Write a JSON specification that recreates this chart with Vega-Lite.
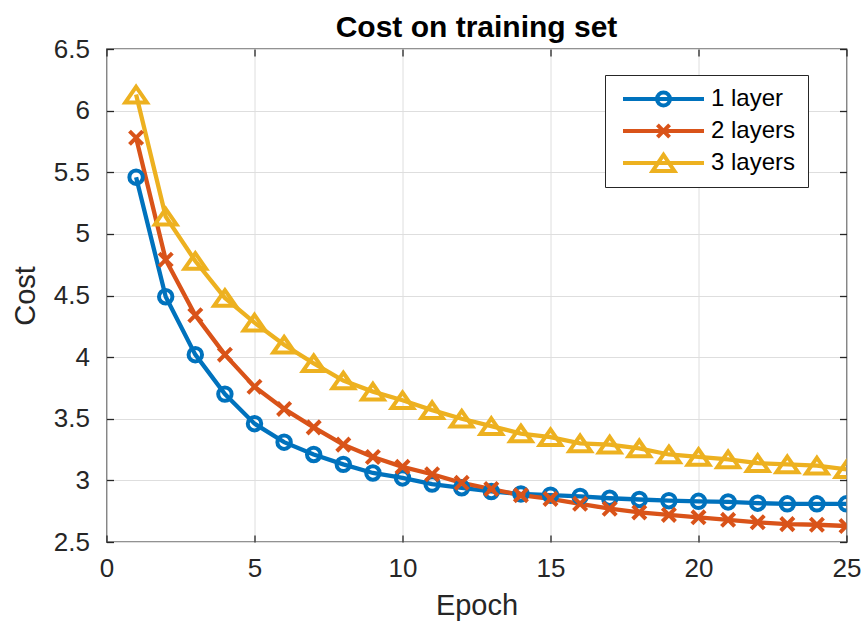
{
  "$schema": "https://vega.github.io/schema/vega-lite/v6.json",
  "autosize": "none",
  "width": 740,
  "height": 493,
  "padding": {"left": 106.5, "top": 49, "right": 15.5, "bottom": 86},
  "background": "white",
  "title": {"text": "Cost on training set", "fontSize": 30, "fontWeight": "bold", "color": "#000000", "font": "Liberation Sans", "offset": -7},
  "data": {"values": [
    {"epoch":1,"series":"1 layer","cost":5.46},{"epoch":2,"series":"1 layer","cost":4.49},{"epoch":3,"series":"1 layer","cost":4.02},{"epoch":4,"series":"1 layer","cost":3.70},{"epoch":5,"series":"1 layer","cost":3.46},{"epoch":6,"series":"1 layer","cost":3.31},{"epoch":7,"series":"1 layer","cost":3.21},{"epoch":8,"series":"1 layer","cost":3.13},{"epoch":9,"series":"1 layer","cost":3.06},{"epoch":10,"series":"1 layer","cost":3.02},{"epoch":11,"series":"1 layer","cost":2.97},{"epoch":12,"series":"1 layer","cost":2.94},{"epoch":13,"series":"1 layer","cost":2.91},{"epoch":14,"series":"1 layer","cost":2.89},{"epoch":15,"series":"1 layer","cost":2.88},{"epoch":16,"series":"1 layer","cost":2.87},{"epoch":17,"series":"1 layer","cost":2.855},{"epoch":18,"series":"1 layer","cost":2.845},{"epoch":19,"series":"1 layer","cost":2.835},{"epoch":20,"series":"1 layer","cost":2.83},{"epoch":21,"series":"1 layer","cost":2.825},{"epoch":22,"series":"1 layer","cost":2.815},{"epoch":23,"series":"1 layer","cost":2.81},{"epoch":24,"series":"1 layer","cost":2.81},{"epoch":25,"series":"1 layer","cost":2.81},
    {"epoch":1,"series":"2 layers","cost":5.78},{"epoch":2,"series":"2 layers","cost":4.79},{"epoch":3,"series":"2 layers","cost":4.34},{"epoch":4,"series":"2 layers","cost":4.02},{"epoch":5,"series":"2 layers","cost":3.76},{"epoch":6,"series":"2 layers","cost":3.58},{"epoch":7,"series":"2 layers","cost":3.43},{"epoch":8,"series":"2 layers","cost":3.29},{"epoch":9,"series":"2 layers","cost":3.19},{"epoch":10,"series":"2 layers","cost":3.11},{"epoch":11,"series":"2 layers","cost":3.05},{"epoch":12,"series":"2 layers","cost":2.98},{"epoch":13,"series":"2 layers","cost":2.93},{"epoch":14,"series":"2 layers","cost":2.88},{"epoch":15,"series":"2 layers","cost":2.85},{"epoch":16,"series":"2 layers","cost":2.81},{"epoch":17,"series":"2 layers","cost":2.77},{"epoch":18,"series":"2 layers","cost":2.74},{"epoch":19,"series":"2 layers","cost":2.72},{"epoch":20,"series":"2 layers","cost":2.70},{"epoch":21,"series":"2 layers","cost":2.68},{"epoch":22,"series":"2 layers","cost":2.66},{"epoch":23,"series":"2 layers","cost":2.645},{"epoch":24,"series":"2 layers","cost":2.64},{"epoch":25,"series":"2 layers","cost":2.63},
    {"epoch":1,"series":"3 layers","cost":6.13},{"epoch":2,"series":"3 layers","cost":5.14},{"epoch":3,"series":"3 layers","cost":4.78},{"epoch":4,"series":"3 layers","cost":4.48},{"epoch":5,"series":"3 layers","cost":4.28},{"epoch":6,"series":"3 layers","cost":4.10},{"epoch":7,"series":"3 layers","cost":3.95},{"epoch":8,"series":"3 layers","cost":3.81},{"epoch":9,"series":"3 layers","cost":3.72},{"epoch":10,"series":"3 layers","cost":3.65},{"epoch":11,"series":"3 layers","cost":3.57},{"epoch":12,"series":"3 layers","cost":3.50},{"epoch":13,"series":"3 layers","cost":3.44},{"epoch":14,"series":"3 layers","cost":3.38},{"epoch":15,"series":"3 layers","cost":3.35},{"epoch":16,"series":"3 layers","cost":3.30},{"epoch":17,"series":"3 layers","cost":3.29},{"epoch":18,"series":"3 layers","cost":3.26},{"epoch":19,"series":"3 layers","cost":3.21},{"epoch":20,"series":"3 layers","cost":3.19},{"epoch":21,"series":"3 layers","cost":3.17},{"epoch":22,"series":"3 layers","cost":3.14},{"epoch":23,"series":"3 layers","cost":3.13},{"epoch":24,"series":"3 layers","cost":3.12},{"epoch":25,"series":"3 layers","cost":3.09}
  ]},
  "layer": [
    {
      "mark": {"type": "line", "strokeWidth": 4.3, "clip": true},
      "encoding": {
        "x": {"field": "epoch", "type": "quantitative", "scale": {"domain": [0, 25], "nice": false},
              "axis": {"title": "Epoch", "values": [0,5,10,15,20,25], "orient": "bottom", "labelFlush": false}},
        "y": {"field": "cost", "type": "quantitative", "scale": {"domain": [2.5, 6.5], "nice": false, "zero": false},
              "axis": {"title": "Cost", "values": [2.5,3,3.5,4,4.5,5,5.5,6,6.5], "format": "~g", "orient": "left", "labelFlush": false, "labelPadding": 24, "titlePadding": 13}},
        "color": {"field": "series", "type": "nominal",
                  "scale": {"domain": ["1 layer","2 layers","3 layers"], "range": ["#0072BD","#D95319","#EDB120"]},
                  "legend": null}
      }
    },
    {
      "mark": {"type": "point", "filled": false, "strokeWidth": 4, "size": 576, "opacity": 1, "clip": true},
      "encoding": {
        "x": {"field": "epoch", "type": "quantitative",
              "axis": {"orient": "top", "labels": false, "title": null, "grid": false, "values": [0,5,10,15,20,25]}},
        "y": {"field": "cost", "type": "quantitative",
              "axis": {"orient": "right", "labels": false, "title": null, "grid": false, "values": [2.5,3,3.5,4,4.5,5,5.5,6,6.5]}},
        "color": {"field": "series", "type": "nominal",
                  "scale": {"domain": ["1 layer","2 layers","3 layers"], "range": ["#0072BD","#D95319","#EDB120"]},
                  "legend": null},
        "shape": {"field": "series", "type": "nominal",
                  "scale": {"domain": ["1 layer","2 layers","3 layers"],
                            "range": ["M0.56,0A0.56,0.56,0,1,1,-0.56,0A0.56,0.56,0,1,1,0.56,0Z", "M-0.55,-0.55L0.55,0.55M-0.55,0.55L0.55,-0.55", "M0,-0.65L0.9,0.65L-0.9,0.65Z"]},
                  "legend": null}
      }
    },
    {
      "mark": {"type": "point", "filled": false, "strokeWidth": 4, "size": 1, "opacity": 0, "clip": true},
      "encoding": {
        "x": {"field": "epoch", "type": "quantitative", "axis": null},
        "y": {"field": "cost", "type": "quantitative", "axis": null},
        "color": {"field": "series", "type": "nominal",
                  "scale": {"domain": ["1 layer","2 layers","3 layers"], "range": ["#0072BD","#D95319","#EDB120"]},
                  "legend": {"title": null, "orient": "none", "legendX": 498.5, "legendY": 26,
                             "symbolSize": 6561, "symbolStrokeWidth": 4, "symbolOpacity": 1, "symbolOffset": 4, "clipHeight": 24,
                             "labelFontSize": 24, "labelColor": "#000000", "labelFont": "Liberation Sans",
                             "labelOffset": 5, "padding": 12, "rowPadding": 8, "strokeColor": "#262626", "fillColor": "#ffffff"}},
        "shape": {"field": "series", "type": "nominal",
                  "scale": {"domain": ["1 layer","2 layers","3 layers"],
                            "range": ["M-1,0H1M0.16,0A0.16,0.16,0,1,1,-0.16,0A0.16,0.16,0,1,1,0.16,0Z", "M-1,0H1M-0.15,-0.15L0.15,0.15M-0.15,0.15L0.15,-0.15", "M-1,0H1M0,-0.2L0.27,0.2L-0.27,0.2Z"]},
                  "legend": {"title": null, "orient": "none", "legendX": 498.5, "legendY": 26,
                             "symbolSize": 6561, "symbolStrokeWidth": 4, "symbolOpacity": 1, "symbolOffset": 4, "clipHeight": 24,
                             "labelFontSize": 24, "labelColor": "#000000", "labelFont": "Liberation Sans",
                             "labelOffset": 5, "padding": 12, "rowPadding": 8, "strokeColor": "#262626", "fillColor": "#ffffff"}}
      }
    }
  ],
  "resolve": {"axis": {"x": "independent", "y": "independent"}, "scale": {"color": "independent", "shape": "independent"}},
  "config": {
    "font": "Liberation Sans",
    "view": {"stroke": "#262626", "strokeWidth": 1.3},
    "axis": {
      "domain": false,
      "grid": true, "gridColor": "#dedede", "gridWidth": 1,
      "ticks": true, "tickSize": -7, "tickColor": "#262626", "tickWidth": 1.3,
      "labelFontSize": 26, "labelColor": "#262626", "labelFont": "Liberation Sans",
      "titleFontSize": 29, "titleFontWeight": "normal", "titleColor": "#262626", "titleFont": "Liberation Sans",
      "labelPadding": 20
    },
    "axisX": {"titlePadding": 10}
  }
}
